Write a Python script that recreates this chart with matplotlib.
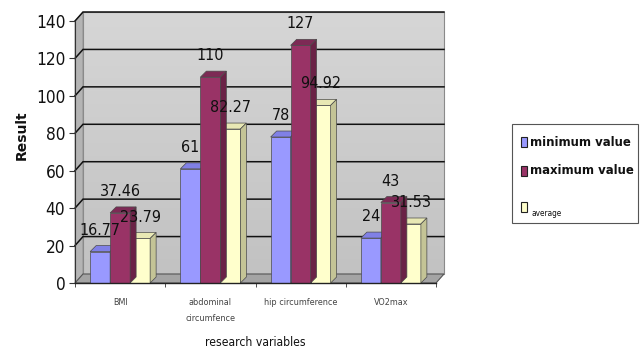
import matplotlib
matplotlib.use('Agg')
import matplotlib.pyplot as plt
import numpy as np
from matplotlib.patches import Polygon, Rectangle
from matplotlib import font_manager as fm
from matplotlib.colors import LinearSegmentedColormap

categories = ['BMI', 'abdominal\ncircumfence', 'hip circumference', 'VO2max']
series_names = ['minimum value', 'maximum value', 'average']
minimum_value = [16.77, 61, 78, 24]
maximum_value = [37.46, 110, 127, 43]
average_value = [23.79, 82.27, 94.92, 31.53]
value_labels = [['16.77', '61', '78', '24'],
                ['37.46', '110', '127', '43'],
                ['23.79', '82.27', '94.92', '31.53']]
yticks = [0, 20, 40, 60, 80, 100, 120, 140]

series = [minimum_value, maximum_value, average_value]
face = ['#9999ff', '#993366', '#ffffcc']
topc = ['#8080e6', '#7d2a55', '#e8e8b4']
sidec = ['#6f6fc4', '#6a2246', '#c4c496']
zord = [2, 4, 3]

# pick a narrow font if one is installed
entries = [(f.name, f.stretch) for f in fm.fontManager.ttflist]
names = {e[0] for e in entries}
NARROW = dict(family=['DejaVu Sans'])
SCALE = 0.82
if 'Liberation Sans Narrow' in names:
    NARROW = dict(family=['Liberation Sans Narrow', 'DejaVu Sans'])
    SCALE = 1.0
elif any(n == 'DejaVu Sans' and s in ('condensed', 'semi-condensed') for n, s in entries):
    NARROW = dict(family=['DejaVu Sans'], stretch='condensed')
    SCALE = 0.92
elif 'Roboto Condensed' in names:
    NARROW = dict(family=['Roboto Condensed', 'DejaVu Sans'])
    SCALE = 1.0
elif 'Lato' in names:
    NARROW = dict(family=['Lato', 'DejaVu Sans'])
    SCALE = 0.85

W, H = 640, 353
fig = plt.figure(figsize=(W / 100, H / 100), dpi=100)
L, R, B, T = 75, 436, 283, 21
ax = fig.add_axes([L / W, 1 - B / H, (R - L) / W, (B - T) / H])
xmin, xmax = -0.5, 3.5
ymin, ymax = 0, 140
pxx = (R - L) / (xmax - xmin)
pxy = (B - T) / (ymax - ymin)
wdx, wdy = 8 / pxx, 9 / pxy
bdx, bdy = 6 / pxx, 6 / pxy
bw = 20 / pxx

# back wall with gradient
grad = np.linspace(0, 1, 100).reshape(-1, 1)
cm = LinearSegmentedColormap.from_list('w', ['#c2c2c2', '#d6d6d6'])
im = ax.imshow(grad, extent=(xmin + wdx, xmax + wdx, ymin + wdy, ymax + wdy),
               origin='lower', aspect='auto', cmap=cm, zorder=0)
im.set_clip_on(False)
ax.add_patch(Rectangle((xmin + wdx, ymin + wdy), xmax - xmin, ymax - ymin,
                       fill=False, ec='#8a8a8a', lw=0.8, zorder=0.5, clip_on=False))
# left wall
ax.add_patch(Polygon([(xmin, ymin), (xmin + wdx, ymin + wdy), (xmin + wdx, ymax + wdy), (xmin, ymax)],
                     closed=True, fc='#b4b4b4', ec='#8a8a8a', lw=0.6, zorder=0.6, clip_on=False))
# floor
ax.add_patch(Polygon([(xmin, ymin), (xmax, ymin), (xmax + wdx, ymin + wdy), (xmin + wdx, ymin + wdy)],
                     closed=True, fc='#a4a4a4', ec='#555555', lw=0.8, zorder=0.7, clip_on=False))
# gridlines
for t in yticks[1:]:
    ax.plot([xmin, xmin + wdx, xmax + wdx], [t, t + wdy, t + wdy], color='#111111', lw=1.1,
            zorder=1, clip_on=False, solid_joinstyle='miter')

# bars
for i, vals in enumerate(series):
    xs = np.arange(len(categories)) + (i - 1) * bw
    ax.bar(xs, vals, width=bw, color=face[i], edgecolor='#4a4a4a', lw=0.5, zorder=zord[i])
    for x, v in zip(xs, vals):
        x0, x1 = x - bw / 2, x + bw / 2
        ax.add_patch(Polygon([(x0, v), (x1, v), (x1 + bdx, v + bdy), (x0 + bdx, v + bdy)], closed=True,
                             fc=topc[i], ec='#4a4a4a', lw=0.5, zorder=zord[i], clip_on=False))
        ax.add_patch(Polygon([(x1, 0), (x1 + bdx, bdy), (x1 + bdx, v + bdy), (x1, v)], closed=True,
                             fc=sidec[i], ec='#4a4a4a', lw=0.5, zorder=zord[i], clip_on=False))
    for x, v, lab in zip(xs, vals, value_labels[i]):
        ax.annotate(lab, (x, v), xytext=(0, 10), textcoords='offset points', ha='center', va='bottom',
                    fontsize=12.5 * SCALE, color='#111111', zorder=10, annotation_clip=False, **NARROW)

ax.set_xlim(xmin, xmax)
ax.set_ylim(ymin, ymax)
for s in ['top', 'right']:
    ax.spines[s].set_visible(False)
ax.spines['left'].set_color('#333333')
ax.spines['bottom'].set_color('#222222')
ax.spines['bottom'].set_linewidth(1.0)
ax.spines['left'].set_zorder(6)
ax.spines['bottom'].set_zorder(6)
ax.set_yticks(yticks)
ax.set_yticklabels([str(t) for t in yticks], fontsize=13.5 * SCALE, color='#111111', **NARROW)
ax.tick_params(axis='y', length=4, color='#333333', pad=3)
ax.set_xticks(range(len(categories)))
ax.set_xticklabels(categories, fontsize=7 * SCALE, color='#444444', linespacing=2.0, **NARROW)
ax.set_xticks(np.arange(len(categories) + 1) - 0.5, minor=True)
ax.tick_params(axis='x', which='major', length=0, pad=11)
ax.tick_params(axis='x', which='minor', length=3, color='#333333')
ax.set_facecolor('none')

fig.text(22 / W, 1 - 135 / H, 'Result', rotation=90, ha='center', va='center',
         fontsize=10, fontweight='bold', color='#111111')
fig.text(255 / W, 1 - 342 / H, 'research variables', ha='center', va='center',
         fontsize=9.5 * SCALE, color='#111111', **NARROW)

# legend
lx0, ly0, lx1, ly1 = 512, 124, 638, 223
fig.add_artist(Rectangle((lx0 / W, 1 - ly1 / H), (lx1 - lx0) / W, (ly1 - ly0) / H,
                         transform=fig.transFigure, fc='white', ec='#555555', lw=0.8))
ent_y = [142, 171, 207]
for i, name in enumerate(series_names):
    y = ent_y[i]
    fig.add_artist(Rectangle((521 / W, 1 - (y + 5) / H), 6 / W, 10 / H, transform=fig.transFigure,
                             fc=face[i], ec='#222222', lw=0.8))
    if i < 2:
        fig.text(530 / W, 1 - y / H, name, ha='left', va='center', fontsize=10.2 * SCALE,
                 fontweight='semibold', color='#111111', **NARROW)
    else:
        fig.text(531 / W, 1 - (y + 6) / H, name, ha='left', va='center', fontsize=6.5 * SCALE,
                 color='#111111', **NARROW)

fig.savefig('out.png', dpi=100)
